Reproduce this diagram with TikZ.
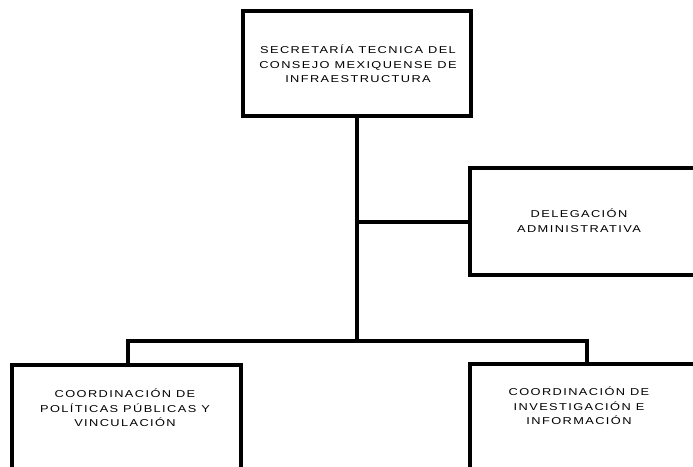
\documentclass[tikz,border=0pt]{standalone}
\usepackage{fontspec}
\setmainfont{Liberation Sans}[LetterSpace=14,FakeStretch=1.28]
\begin{document}
\begin{tikzpicture}[x=1pt,y=-1pt,
  box/.style={draw=black,line width=3.4pt,rectangle,inner sep=0pt},
  lbl/.style={align=center,font=\fontsize{10}{14.6}\selectfont,inner sep=0pt},
  conn/.style={draw=black,line width=3.4pt}]
\useasboundingbox (0,0) rectangle (693,466);
\begin{scope}
\clip (0,0) rectangle (693,466);
% top box
\node[box,minimum width=228pt,minimum height=105pt] (top) at (357,63.5) {};
\node[lbl] (toptxt) at (358,64) {SECRETARÍA TECNICA DEL\\CONSEJO MEXIQUENSE DE\\INFRAESTRUCTURA};
% delegacion
\node[box,minimum width=232pt,minimum height=107pt] (deleg) at (586,221.5) {};
\node[lbl] (delegtxt) at (579,221) {DELEGACIÓN\\ADMINISTRATIVA};
% left bottom box
\node[box,minimum width=229pt,minimum height=130pt] (left) at (126.5,430) {};
\node[lbl] (lefttxt) at (125,408) {COORDINACIÓN DE\\POLÍTICAS PÚBLICAS Y\\VINCULACIÓN};
% right bottom box
\node[box,minimum width=232pt,minimum height=130pt] (right) at (586,429) {};
\node[lbl] (righttxt) at (579,406) {COORDINACIÓN DE\\INVESTIGACIÓN E\\INFORMACIÓN};
% connectors
\coordinate (bar) at (357,341);
\coordinate (barL) at (128,341);
\coordinate (barR) at (587,341);
\coordinate (branch) at (357,222);
\draw[conn] (top.south) -- (bar);
\draw[conn] (branch) -- (branch -| deleg.west);
\draw[conn,line cap=rect] (barL) -- (barR);
\draw[conn] (barL) -- (barL |- left.north);
\draw[conn] (barR) -- (barR |- right.north);
\end{scope}
\end{tikzpicture}
\end{document}
